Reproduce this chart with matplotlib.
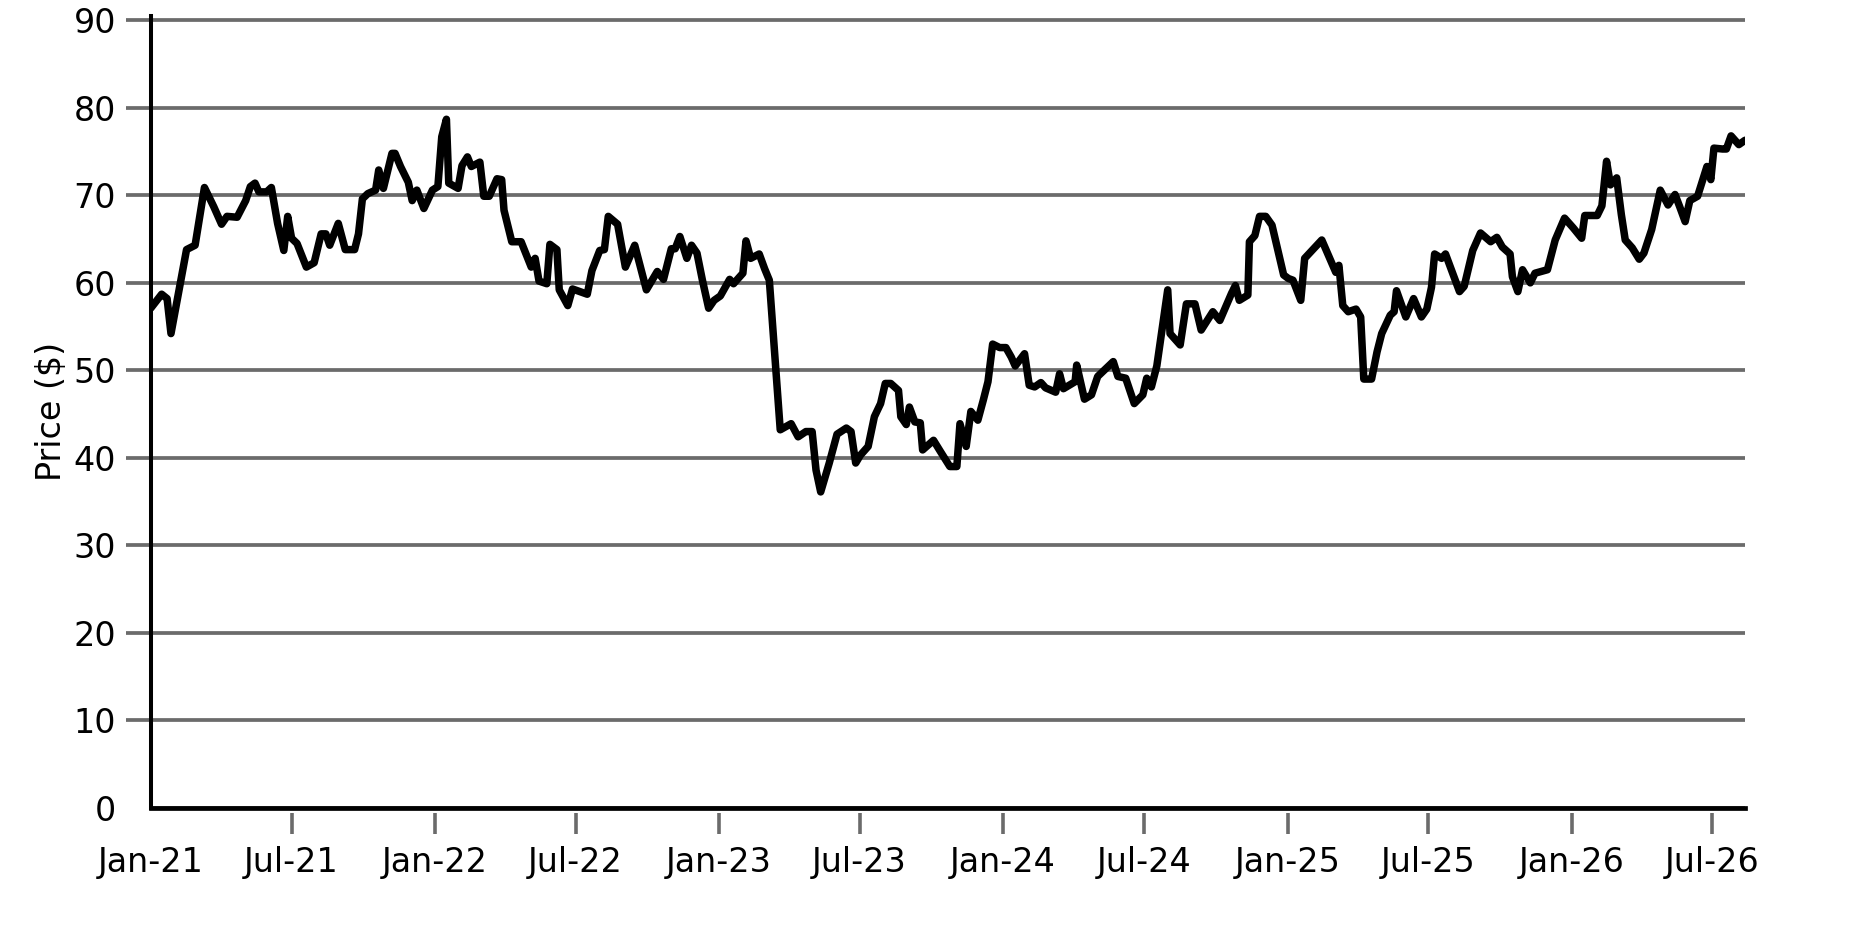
import matplotlib
matplotlib.use("Agg")
import matplotlib.pyplot as plt
import matplotlib.dates as mdates
import numpy as np
import pandas as pd

# days after 2021-01-01 and closing price
day = [0, 14, 21, 26, 46, 57, 69, 81, 91, 98, 111, 122, 128, 134, 139, 149, 155,
       163, 171, 176, 181, 188, 200, 210, 219, 225, 230, 241, 250, 262, 267, 272,
       279, 289, 293, 299, 310, 314, 321, 331, 336, 342, 351,
       362, 369, 374, 380, 383, 395, 400, 407, 412, 423, 428, 435, 445, 451, 454,
       464, 476, 489, 494, 499, 509, 513, 522, 525, 536, 542, 561, 567, 577, 583,
       588, 600, 610, 622, 637, 651, 659, 669, 674, 680, 689, 695,
       702, 709, 717, 724, 732, 744, 749, 761, 765, 771, 782, 789, 795, 809, 823,
       832, 842, 850, 855, 861, 872, 882, 894, 900, 906, 912, 922, 930, 938,
       944, 951, 961, 964, 971, 975, 982, 989, 992, 1006, 1015, 1027, 1036, 1040,
       1048, 1054,
       1063, 1070, 1076, 1082, 1091, 1099, 1106, 1111, 1123, 1129, 1136, 1144, 1150,
       1163, 1168, 1173, 1188, 1190, 1200, 1209, 1217, 1237, 1243, 1253, 1264, 1275,
       1280, 1286, 1293, 1301, 1307, 1310, 1323, 1331, 1342, 1350, 1365, 1374, 1389,
       1394, 1399,
       1410, 1412, 1419, 1425, 1433, 1441, 1456, 1462, 1468, 1478, 1483, 1505, 1520,
       1523, 1527, 1532, 1539, 1549, 1555, 1559, 1569, 1576, 1582, 1593, 1598, 1601,
       1613, 1623, 1633, 1640, 1646, 1650, 1659, 1664, 1682, 1688, 1699, 1709, 1722,
       1730, 1737, 1747, 1750, 1757,
       1763, 1773, 1779, 1795, 1805, 1817, 1828, 1839, 1843, 1859, 1865, 1871, 1876,
       1884, 1890, 1895, 1904, 1913, 1919, 1929, 1940, 1950, 1959, 1965, 1972, 1978,
       1988, 2000, 2005, 2009, 2020, 2025, 2031, 2041, 2049]
price = [57.1, 58.7, 58.2, 54.2, 63.8, 64.3, 70.9, 68.7, 66.7, 67.6, 67.5, 69.4, 71.0,
         71.4, 70.4, 70.4, 70.9, 66.8, 63.7, 67.6, 65.1, 64.5, 61.8, 62.3, 65.6, 65.6,
         64.3, 66.8, 63.8, 63.8, 65.6, 69.6, 70.2, 70.6, 72.9, 70.8, 74.8, 74.8, 73.3,
         71.5, 69.4, 70.6, 68.5,
         70.6, 71.0, 76.7, 78.7, 71.4, 70.8, 73.4, 74.4, 73.3, 73.8, 69.9, 69.9, 71.9,
         71.8, 68.3, 64.7, 64.7, 61.8, 62.8, 60.2, 59.9, 64.4, 63.8, 59.2, 57.4, 59.3,
         58.7, 61.4, 63.7, 63.8, 67.6, 66.7, 61.8, 64.3, 59.2, 61.3, 60.4, 63.9, 63.9,
         65.3, 62.8, 64.3,
         63.4, 60.3, 57.1, 58.0, 58.5, 60.4, 59.9, 61.1, 64.8, 62.8, 63.3, 61.6, 60.3,
         43.2, 43.9, 42.4, 43.0, 43.0, 38.6, 36.1, 39.4, 42.7, 43.4, 43.0, 39.4, 40.3,
         41.3, 44.7, 46.2, 48.5, 48.5, 47.7, 44.7, 43.8, 45.8, 44.1, 44.0, 40.9, 42.0,
         40.7, 39.0, 39.0, 43.9, 41.3, 45.3,
         44.3, 46.6, 48.7, 53.0, 52.6, 52.6, 51.5, 50.5, 51.9, 48.3, 48.1, 48.6, 48.0,
         47.5, 49.6, 47.9, 48.7, 50.6, 46.7, 47.2, 49.3, 51.0, 49.3, 49.1, 46.2, 47.2,
         49.1, 48.1, 50.5, 55.5, 59.2, 54.2, 52.9, 57.6, 57.6, 54.6, 56.7, 55.7, 58.8,
         59.7, 58.0,
         58.6, 64.7, 65.4, 67.6, 67.6, 66.6, 60.9, 60.5, 60.3, 58.0, 62.8, 64.9, 61.8,
         61.2, 62.0, 57.4, 56.7, 57.0, 56.1, 49.0, 49.0, 52.1, 54.2, 56.3, 56.7, 59.1,
         56.1, 58.2, 56.1, 57.0, 59.5, 63.3, 62.8, 63.3, 59.0, 59.6, 63.7, 65.7, 64.7,
         65.2, 64.1, 63.3, 60.7, 59.0,
         61.5, 60.0, 61.1, 61.5, 64.9, 67.4, 66.3, 65.1, 67.7, 67.7, 68.8, 73.9, 71.2,
         72.0, 67.8, 64.9, 64.0, 62.7, 63.4, 66.1, 70.6, 68.9, 70.1, 68.7, 67.0, 69.4,
         69.9, 73.3, 71.8, 75.4, 75.3, 75.3, 76.8, 75.8, 76.3]

y_ticks = [0, 10, 20, 30, 40, 50, 60, 70, 80, 90]

dates = pd.Timestamp("2021-01-01") + pd.to_timedelta(day, unit="D")

grid_grey = "#6b6b6b"

fig = plt.figure(figsize=(18.75, 9.38), dpi=100)
ax = fig.add_axes([0.0804, 0.1389, 0.8503, 0.8440])

ax.plot(dates, price, color="black", lw=5.4, solid_joinstyle="round",
        solid_capstyle="round", zorder=3)

ax.set_xlim(dates[0], dates[-1])
ax.set_ylim(0, 90.5)
ax.set_yticks(y_ticks)
ax.yaxis.grid(True, color=grid_grey, lw=2.7)
ax.set_axisbelow(True)

ax.xaxis.set_major_locator(mdates.MonthLocator(bymonth=[1, 7]))
ax.xaxis.set_major_formatter(mdates.DateFormatter("%b-%y"))

for side in ["top", "right"]:
    ax.spines[side].set_visible(False)
ax.spines["left"].set_linewidth(2.9)
ax.spines["left"].set_color("black")
# x ticks hang a little below the axis line
ax.spines["bottom"].set_position(("outward", 3.6))
ax.spines["bottom"].set_visible(False)
ax.axhline(0, color="black", lw=3.4, zorder=4, clip_on=False)

ax.tick_params(axis="y", length=18, width=2.7, color=grid_grey, pad=7, labelsize=24)
ax.tick_params(axis="x", length=15, width=2.6, color=grid_grey, pad=9, labelsize=24)
ax.xaxis.get_major_ticks()[0].tick1line.set_visible(False)
ax.yaxis.get_major_ticks()[0].tick1line.set_visible(False)

ax.set_ylabel("Price ($)", fontsize=24, labelpad=4)

fig.savefig("out.png", dpi=100)
